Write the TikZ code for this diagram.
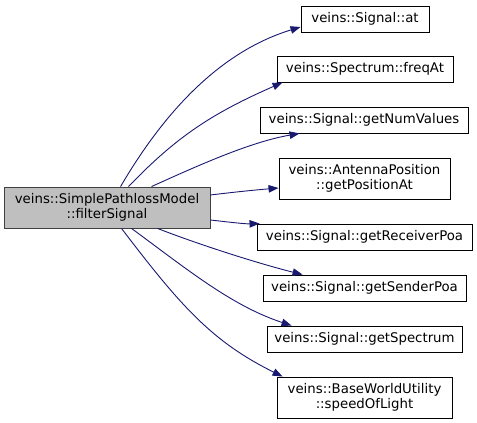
\documentclass[tikz,border=0pt]{standalone}
\usepackage{fontspec}
\setmainfont{DejaVu Sans}
\usetikzlibrary{arrows.meta}
\definecolor{edgeblue}{HTML}{191970}
\definecolor{mainfill}{HTML}{BFBFBF}
\definecolor{mainborder}{HTML}{404040}
\begin{document}
\begin{tikzpicture}[x=1pt,y=-1pt,
  box/.style={draw=black, line width=0.9pt, inner sep=0pt, align=center, anchor=center,
    font=\fontsize{13.3}{15.5}\selectfont},
  mainbox/.style={box, draw=mainborder, fill=mainfill},
  edge/.style={draw=edgeblue, line width=0.9pt, -{Triangle[length=10pt,width=7.5pt]}}]
\useasboundingbox (0,0) rectangle (477,423);

\node[mainbox, minimum width=206pt, minimum height=41pt] (main) at (107,207.5) {veins::SimplePathlossModel\\::filterSignal};

\node[box, minimum width=128pt, minimum height=26pt] (at) at (365,19) {veins::Signal::at};
\node[box, minimum width=176pt, minimum height=26pt] (freq) at (365,69) {veins::Spectrum::freqAt};
\node[box, minimum width=208pt, minimum height=26pt] (num) at (364,120) {veins::Signal::getNumValues};
\node[box, minimum width=171pt, minimum height=41pt] (ant) at (364.5,178.5) {veins::AntennaPosition\\::getPositionAt};
\node[box, minimum width=215pt, minimum height=26pt] (recv) at (364.5,237) {veins::Signal::getReceiverPoa};
\node[box, minimum width=203pt, minimum height=26pt] (send) at (364.5,288) {veins::Signal::getSenderPoa};
\node[box, minimum width=195pt, minimum height=26pt] (spec) at (364.5,339) {veins::Signal::getSpectrum};
\node[box, minimum width=175pt, minimum height=41pt] (bwu) at (364.5,397.5) {veins::BaseWorldUtility\\::speedOfLight};

\draw[edge] ([xshift=117pt]main.north west) .. controls (166,109) and (222,51) .. ([yshift=-8pt]at.west);
\draw[edge] ([xshift=125pt]main.north west) .. controls (177,136) and (213,113) .. ([xshift=6pt]freq.south west);
\draw[edge] ([xshift=148pt]main.north west) .. controls (197,166) and (250,142) .. ([xshift=40pt]num.south west);
\draw[edge] ([yshift=12.5pt]main.east) .. controls (235,192) and (255,190) .. ([yshift=-9.5pt]ant.west);
\draw[edge] ([yshift=-12.5pt]main.east) .. controls (228,222) and (245,224) .. ([xshift=3pt]recv.north west);
\draw[edge] ([xshift=154pt]main.south west) .. controls (200,245) and (260,264) .. ([xshift=40pt]send.north west);
\draw[edge] ([xshift=128pt]main.south west) .. controls (188,270) and (232,306) .. ([xshift=25pt]spec.north west);
\draw[edge] ([xshift=118pt]main.south west) .. controls (182,308) and (213,342) .. ([xshift=6pt]bwu.north west);
\end{tikzpicture}
\end{document}
